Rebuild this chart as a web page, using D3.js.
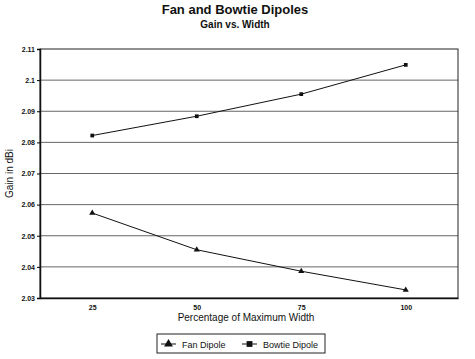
<!DOCTYPE html>
<html>
<head>
<meta charset="utf-8">
<script src="https://cdn.jsdelivr.net/npm/d3@7"></script>
<style>
	body { margin: 0; background: #fff; }
	text { font-family: "Liberation Sans", Arial, sans-serif; fill: #111; }
</style>
</head>
<body>
<div id="chart"></div>
<script>
// chart data
var widths = ["25", "50", "75", "100"];
var fanGain = [2.0573, 2.0455, 2.0386, 2.0326];
var bowtieGain = [2.0822, 2.0884, 2.0955, 2.1049];
var yTicks = [2.03, 2.04, 2.05, 2.06, 2.07, 2.08, 2.09, 2.1, 2.11];

var W = 475, H = 359;
var plot = { left: 40, right: 458, top: 49, bottom: 298 };

var svg = d3.select("#chart").append("svg")
	.attr("width", W)
	.attr("height", H);

var x = d3.scalePoint()
	.domain(widths)
	.range([plot.left, plot.right])
	.padding(0.5);

var y = d3.scaleLinear()
	.domain([2.03, 2.11])
	.range([plot.bottom, plot.top]);

// titles
svg.append("text")
	.attr("x", 235).attr("y", 14)
	.attr("text-anchor", "middle")
	.style("font-size", "13px").style("font-weight", "bold")
	.text("Fan and Bowtie Dipoles");
svg.append("text")
	.attr("x", 235).attr("y", 28)
	.attr("text-anchor", "middle")
	.style("font-size", "10px").style("font-weight", "bold")
	.text("Gain vs. Width");

// gridlines
svg.append("g")
	.selectAll("line")
	.data(yTicks.slice(1, -1))
	.enter().append("line")
	.attr("x1", plot.left).attr("x2", plot.right)
	.attr("y1", function(d) { return y(d); })
	.attr("y2", function(d) { return y(d); })
	.style("stroke", "#666")
	.style("stroke-width", 1);

// plot frame
svg.append("rect")
	.attr("x", plot.left).attr("y", plot.top)
	.attr("width", plot.right - plot.left)
	.attr("height", plot.bottom - plot.top)
	.style("fill", "none")
	.style("stroke", "#222")
	.style("stroke-width", 1);

// y axis
var yAxis = svg.append("g")
	.attr("transform", "translate(" + plot.left + ",0)")
	.call(d3.axisLeft(y).tickValues(yTicks).tickSize(3).tickPadding(2)
		.tickFormat(function(d) { return d3.format(".3~f")(d); }));
yAxis.select(".domain").style("stroke", "#111").style("stroke-width", 1.5);
yAxis.selectAll("text").style("font-size", "7px").style("font-weight", "bold");

// x axis
var xAxis = svg.append("g")
	.attr("transform", "translate(0," + plot.bottom + ")")
	.call(d3.axisBottom(x).tickSize(0).tickPadding(7));
xAxis.select(".domain").style("stroke", "#111").style("stroke-width", 1.5);
xAxis.selectAll("text").style("font-size", "7px").style("font-weight", "bold");

// axis labels
svg.append("text")
	.attr("transform", "translate(13," + ((plot.top + plot.bottom) / 2) + ") rotate(-90)")
	.attr("text-anchor", "middle")
	.style("font-size", "10px")
	.text("Gain in dBi");
svg.append("text")
	.attr("x", 246).attr("y", 321)
	.attr("text-anchor", "middle")
	.style("font-size", "10px")
	.text("Percentage of Maximum Width");

// series
var series = [
	{ name: "Fan Dipole", values: fanGain, symbol: d3.symbolTriangle, size: 16 },
	{ name: "Bowtie Dipole", values: bowtieGain, symbol: d3.symbolSquare, size: 14 }
];

var line = d3.line()
	.x(function(d, i) { return x(widths[i]); })
	.y(function(d) { return y(d); });

series.forEach(function(s) {
	svg.append("path")
		.datum(s.values)
		.attr("d", line)
		.style("fill", "none")
		.style("stroke", "#111")
		.style("stroke-width", 1);
	svg.append("g")
		.selectAll("path")
		.data(s.values)
		.enter().append("path")
		.attr("transform", function(d, i) { return "translate(" + x(widths[i]) + "," + y(d) + ")"; })
		.attr("d", d3.symbol().type(s.symbol).size(s.size))
		.style("fill", "#111");
});

// legend
var legend = svg.append("g").attr("transform", "translate(157,334)");
legend.append("rect")
	.attr("width", 168).attr("height", 19)
	.style("fill", "none").style("stroke", "#222").style("stroke-width", 1);
var items = legend.selectAll("g.item")
	.data(series)
	.enter().append("g")
	.attr("class", "item")
	.attr("transform", function(d, i) { return "translate(" + (4 + i * 81) + ",10)"; });
items.append("line")
	.attr("x1", 0).attr("x2", 15)
	.style("stroke", "#111");
items.append("path")
	.attr("transform", "translate(7.5,0)")
	.attr("d", function(d) { return d3.symbol().type(d.symbol).size(34)(); })
	.style("fill", "#111");
items.append("text")
	.attr("x", 21).attr("y", 3.5)
	.style("font-size", "9px")
	.text(function(d) { return d.name; });
</script>
</body>
</html>
